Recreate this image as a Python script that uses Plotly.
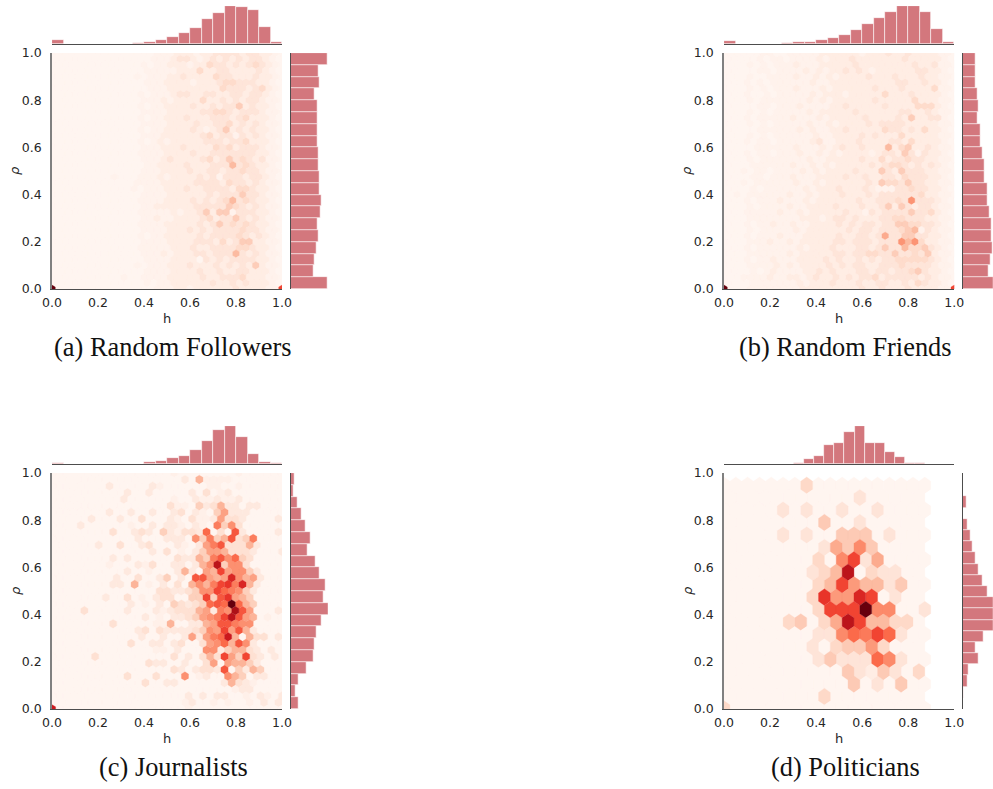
import plotly.graph_objects as go
from plotly.colors import sample_colorscale

# ---------- values ----------
# Top-to-bottom hex rows (k = 40..0). One base-36 character per cell.
CELLS_A = """
0000000000 0000001112 2212233332 332210
0000000000 0000011123 3212323232 33210
0000000000 0000101122 2122433232 343210
0000000000 0000111112 2242233222 23210
0000000000 0001011122 3222243322 232210
0000000000 0000111222 2122234433 32210
0000000000 0000011122 2222224333 234210
0000000000 0001011123 3223322332 33210
0000000000 0000111212 2224223232 332110
0000000000 0001011222 2322323352 32210
0000000000 0000111122 2223344323 332110
0000000000 0001011222 3222333234 22210
0000000000 0000111122 2232233423 232110
0000000000 0001011222 2321235232 32210
0000000000 0000111222 2223423313 232110
0000000000 0001012122 2223332334 22210
0000000000 0000111222 3222243423 332110
0000000000 0001111222 2322333333 32210
0000000000 0000111232 2223423534 323110
0000000000 0000112222 3222333634 32210
0000000000 0000111222 2322332334 332110
0000000001 0001112122 2232313332 33210
0000000000 0001111222 2233332433 232110
0000000000 0010111222 3223333244 32210
0000000000 0000111122 2222323335 332110
0000000000 0001111222 2323234634 32210
0000000000 0000112222 2233333543 232110
0000000000 0001111121 2235255133 32210
0000000000 0000112112 2223423353 232110
0000000000 0001111222 2232353434 32210
0000000000 0000111122 2323233334 332110
0000000000 0001011222 2232333343 23210
0000000000 0000111122 2233324235 522110
0000000000 0001111122 2322333344 32210
0000000000 0000111212 2233233363 232110
0000000000 0000111122 2203232333 32210
0000000000 0001011122 2322232323 252110
0000000000 0000111122 2232232233 22210
0000000000 0100111122 2223223334 222110
0000000000 0000101122 2222322323 22210
z000000000 0000001112 2122222232 22211c
"""
CELLS_B = """
0000001100 1111122222 2122232232 222110
0000010110 1111212223 2222222322 22210
0000101011 1211122222 3222222223 223110
0000011011 1121212232 3212222223 32210
0000100111 1211212122 2232223222 322110
0001010111 1112112222 2222223322 32210
0000101011 1211121222 2223222322 224110
0001001011 1112122212 2222422232 22210
0000101111 1112121222 2223222224 222110
0000011011 1211112232 2222322224 44210
0000101011 1112122222 3222222332 232110
0001011111 2111212222 2322223252 23310
0000101011 1112112122 2232333322 222110
0000011111 1212112232 2222433232 42210
0000101011 1111211222 2323222422 222110
0001011011 1112311222 3222233242 22210
0000011111 1211121232 2322262452 232110
0001011011 1211212122 2212332531 32210
0000101111 1112112222 2322423343 322110
0000111111 2112121222 2232344323 23210
0001011011 1121212222 3222532533 322110
0000110111 2111222232 2322332433 32210
0001011111 1211212222 2232544353 322110
0000101111 1121222322 2321113343 32210
0010111111 2112122232 2232333333 422110
0001011121 1121222222 3223334383 33210
0000101111 2112222322 2322352532 332110
0001111121 1212222232 2132333353 34210
0000111111 1122212332 3222334433 322110
0001011211 2112222323 2332335544 33210
0000101111 1212222223 2332333456 132110
0001011121 1122222322 3323733553 32210
0000111211 2122222332 3332333868 422110
0001011111 1212223222 3323533644 53210
0000111111 2122222332 3344335334 352110
0001011211 1222232322 3232334444 43210
0000111121 2122223232 3322333433 332110
0000101211 1122323222 3323323345 32210
0001111211 2212322323 2334233333 232110
0000111111 1212223222 3223322324 32210
z000111111 1122222222 2322322232 22211c
"""
CELLS_C = {
    36: {17: 1, 26: 1},
    35: {18: 2, 20: 5, 21: 1, 22: 1, 23: 1, 24: 1},
    34: {8: 2, 14: 2, 15: 1, 22: 1, 23: 1, 26: 1},
    33: {10: 2, 13: 2, 19: 2, 21: 3, 23: 1, 24: 2},
    32: {10: 2, 17: 1, 20: 2, 21: 1, 22: 1, 23: 2, 24: 1, 25: 1, 26: 2},
    31: {16: 3, 17: 1, 18: 1, 20: 4, 21: 2, 22: 3, 23: 5, 24: 2, 25: 2, 27: 2, 28: 2},
    30: {8: 2, 11: 2, 14: 2, 17: 2, 18: 3, 20: 2, 21: 1, 23: 4, 24: 6, 25: 2, 26: 2, 27: 2},
    29: {5: 2, 9: 2, 12: 3, 16: 2, 17: 1, 19: 3, 20: 1, 21: 1, 22: 2, 23: 6, 24: 3, 25: 3, 26: 2, 31: 2},
    28: {4: 2, 11: 1, 14: 2, 16: 2, 17: 2, 18: 1, 20: 2, 21: 1, 23: 8, 24: 4, 25: 7, 26: 3},
    27: {8: 3, 11: 2, 12: 3, 13: 2, 15: 4, 16: 2, 17: 1, 18: 3, 19: 3, 20: 2, 21: 9, 23: 3, 25: 11, 26: 2, 31: 2},
    26: {12: 2, 16: 2, 17: 2, 18: 2, 20: 7, 21: 4, 22: 8, 23: 4, 24: 5, 25: 11, 26: 3, 27: 4, 28: 8},
    25: {6: 2, 9: 3, 12: 2, 13: 3, 17: 2, 18: 1, 20: 2, 21: 6, 22: 8, 23: 10, 24: 3, 25: 3, 26: 3, 27: 5, 28: 2},
    24: {14: 2, 16: 3, 18: 1, 20: 2, 21: 4, 22: 6, 23: 6, 24: 5, 25: 3, 26: 3, 27: 3, 28: 2, 32: 2},
    23: {8: 2, 10: 2, 17: 3, 18: 2, 19: 2, 20: 5, 21: 4, 22: 8, 23: 10, 24: 7, 25: 9, 26: 4, 27: 3},
    22: {8: 1, 12: 2, 13: 1, 14: 3, 17: 2, 18: 2, 20: 2, 21: 5, 22: 7, 23: 16, 24: 4, 25: 7, 26: 7, 27: 3},
    21: {10: 2, 13: 1, 17: 2, 18: 5, 19: 2, 21: 6, 22: 5, 23: 12, 24: 6, 25: 7, 26: 7, 27: 4, 28: 2},
    20: {9: 2, 12: 3, 15: 2, 16: 4, 18: 2, 20: 10, 21: 11, 22: 6, 23: 5, 24: 6, 25: 14, 26: 7, 27: 5, 28: 6, 29: 2},
    19: {8: 2, 9: 2, 11: 5, 13: 1, 15: 2, 17: 3, 19: 5, 20: 7, 21: 5, 22: 8, 23: 12, 24: 13, 25: 8, 26: 14, 27: 5, 28: 2},
    18: {15: 3, 16: 3, 17: 2, 18: 2, 19: 3, 20: 4, 21: 7, 22: 7, 23: 12, 24: 9, 25: 8, 26: 7, 27: 4, 28: 2},
    17: {7: 2, 10: 3, 12: 1, 14: 2, 15: 3, 16: 3, 19: 4, 20: 4, 21: 12, 22: 4, 23: 10, 24: 13, 25: 6, 26: 5, 27: 4},
    16: {11: 2, 13: 1, 15: 2, 17: 4, 18: 3, 19: 2, 20: 3, 21: 4, 22: 9, 23: 10, 24: 9, 25: 20, 26: 9, 27: 5, 28: 4},
    15: {4: 3, 10: 2, 14: 2, 15: 1, 16: 2, 17: 3, 18: 3, 19: 3, 20: 5, 21: 6, 22: 2, 23: 8, 24: 7, 25: 17, 26: 10, 27: 6, 31: 2},
    14: {13: 2, 15: 1, 17: 2, 18: 2, 19: 3, 20: 4, 21: 6, 22: 7, 23: 8, 24: 12, 25: 16, 26: 10, 27: 6, 28: 5, 30: 1},
    13: {8: 3, 14: 1, 15: 1, 16: 5, 19: 2, 20: 2, 21: 5, 22: 6, 23: 10, 24: 10, 25: 8, 26: 7, 27: 7},
    12: {12: 2, 13: 3, 15: 3, 16: 2, 17: 2, 18: 2, 19: 2, 20: 3, 21: 4, 22: 7, 23: 6, 24: 12, 25: 6, 26: 10, 27: 5, 28: 2},
    11: {12: 2, 15: 2, 18: 2, 19: 6, 20: 2, 21: 6, 22: 8, 23: 9, 24: 15, 25: 5, 27: 5, 28: 3, 29: 3, 31: 2},
    10: {11: 3, 14: 2, 15: 2, 17: 2, 18: 3, 21: 3, 22: 6, 23: 7, 24: 9, 25: 5, 26: 10, 27: 7, 28: 2},
    9: {14: 1, 15: 1, 17: 2, 21: 7, 22: 7, 23: 2, 24: 4, 25: 5, 26: 5, 27: 3, 28: 2, 30: 2},
    8: {6: 3, 17: 3, 19: 2, 21: 3, 22: 5, 23: 3, 24: 12, 25: 6, 26: 4, 27: 12, 28: 3, 29: 2, 31: 2},
    7: {13: 3, 14: 2, 15: 2, 18: 2, 21: 3, 22: 6, 24: 6, 25: 5, 26: 5, 27: 4, 28: 2},
    6: {17: 3, 18: 2, 20: 2, 21: 3, 22: 3, 23: 2, 24: 11, 26: 4, 27: 2, 28: 5, 29: 4},
    5: {10: 3, 14: 3, 18: 7, 20: 1, 21: 2, 24: 7, 25: 5, 26: 4, 28: 2, 29: 2},
    4: {13: 3, 16: 2, 17: 2, 24: 2, 25: 5, 26: 3, 27: 2, 28: 1},
    3: {25: 1, 26: 2, 27: 2},
    2: {19: 2, 21: 2, 23: 2, 24: 2, 27: 1, 29: 2, 30: 1, 32: 2},
    1: {18: 1, 19: 2, 22: 1, 24: 1, 27: 1, 29: 2, 31: 2},
    0: {0: 15, 19: 1},
}
CELLS_D = {
    18: {7: 3},
    17: {11: 2},
    16: {5: 2, 7: 2, 10: 2, 13: 2},
    15: {8: 4, 11: 2},
    14: {5: 2, 7: 2, 10: 4, 11: 4, 12: 4, 14: 2},
    13: {8: 2, 9: 6, 10: 4, 11: 8, 12: 4},
    12: {8: 3, 10: 8, 11: 12, 12: 2, 13: 6},
    11: {7: 2, 8: 3, 9: 5, 10: 16, 12: 3, 13: 2, 14: 2},
    10: {8: 3, 9: 5, 10: 12, 11: 7, 12: 5, 13: 5, 14: 2, 15: 4},
    9: {7: 3, 8: 13, 9: 7, 10: 7, 11: 14, 12: 12, 14: 2},
    8: {8: 3, 9: 12, 10: 12, 11: 12, 12: 20, 13: 8, 14: 8, 17: 2},
    7: {5: 3, 6: 4, 8: 3, 9: 6, 10: 16, 11: 12, 12: 5, 13: 5, 14: 3, 15: 3},
    6: {8: 2, 9: 2, 10: 8, 11: 10, 12: 9, 13: 12, 14: 10, 15: 2},
    5: {7: 2, 9: 3, 10: 4, 11: 4, 12: 7, 13: 3},
    4: {8: 2, 9: 4, 10: 2, 11: 2, 12: 2, 13: 10, 14: 8, 15: 2},
    3: {10: 4, 11: 2, 12: 1, 13: 4, 14: 2, 16: 3},
    2: {11: 4, 13: 2, 15: 4},
    1: {8: 3},
    0: {0: 3},
}

H_A = [12, 0, 0, 0, 0, 1, 2, 5, 8, 12, 23, 34, 48, 74, 94, 114, 111, 103, 52, 7]
H_B = [10, 0, 0, 0, 1, 4, 7, 8, 14, 20, 27, 43, 61, 79, 97, 114, 114, 97, 47, 7]
H_C = [3, 0, 0, 0, 0, 0, 1, 1, 6, 9, 18, 24, 43, 71, 104, 115, 83, 31, 6, 4]
H_D = [0, 0, 0, 0, 0, 0, 2, 3, 16, 25, 58, 63, 97, 115, 63, 63, 36, 23, 3, 3]

RHO_A = [110, 68, 72, 77, 85, 80, 89, 93, 87, 87, 83, 84, 81, 80, 81, 81, 72, 88, 85, 111]
RHO_B = [90, 77, 82, 89, 87, 87, 79, 74, 73, 65, 65, 58, 53, 52, 44, 48, 45, 38, 37, 39]
RHO_C = [24, 15, 25, 49, 68, 71, 79, 94, 112, 98, 104, 86, 74, 51, 61, 44, 32, 21, 9, 11]
RHO_D = [0, 4, 14, 18, 49, 40, 63, 91, 91, 91, 76, 60, 49, 40, 31, 24, 14, 0, 11, 1]

CAPTIONS = ["(a) Random Followers", "(b) Random Friends", "(c) Journalists", "(d) Politicians"]
TICKS = [0.0, 0.2, 0.4, 0.6, 0.8, 1.0]
TICK_TEXT = ["0.0", "0.2", "0.4", "0.6", "0.8", "1.0"]

# shade for the lowest cell levels in the pale panels
PALE_AB = {1: 0.015, 2: 0.05, 3: 0.095, 4: 0.14, 5: 0.19, 6: 0.25, 7: 0.30, 8: 0.37}
PALE_C = {1: 0.03, 2: 0.07, 3: 0.12, 4: 0.18, 5: 0.27, 6: 0.33, 7: 0.38, 8: 0.44, 9: 0.50, 10: 0.55}
PALE_D = {}

# ---------- layout constants ----------
W, H = 993, 789
BAR = "#d3777d"
INK = "#262626"


def dense(text):
    rows = [r.replace(" ", "") for r in text.strip().splitlines()]
    n = len(rows) - 1
    return {n - idx: {i: int(c, 36) for i, c in enumerate(r) if c != "0"} for idx, r in enumerate(rows)}


PANELS = [
    dict(cells=dense(CELLS_A), top=H_A, right=RHO_A, nx=35, ny=20, xmax=1.0, ymax=1.0, pale=PALE_AB,
         x0=52, x1=282, y0=53, y1=289, base=44.3, ttop=6, rx0=290.5, rx1=328, rmax=112, tmax=114),
    dict(cells=dense(CELLS_B), top=H_B, right=RHO_B, nx=35, ny=20, xmax=1.0, ymax=1.0, pale=PALE_AB,
         x0=724, x1=954.3, y0=53, y1=289, base=44.3, ttop=6, rx0=962.5, rx1=993, rmax=90, tmax=114),
    dict(cells=CELLS_C, top=H_C, right=RHO_C, nx=32, ny=18, xmax=1.0, ymax=1.0, pale=PALE_C,
         x0=52, x1=282, y0=473, y1=709, base=464.3, ttop=426, rx0=290.5, rx1=328, rmax=112, tmax=115),
    dict(cells=CELLS_D, top=H_D, right=RHO_D, nx=17, ny=9, xmax=0.872, ymax=0.948, pale=PALE_D,
         x0=724, x1=954.3, y0=473, y1=709, base=464.3, ttop=426, rx0=962.5, rx1=993, rmax=91, tmax=115),
]
CAP_POS = [(172.7, 347), (845, 347), (173, 767), (845, 767)]


def px(v):
    return v / W


def py(v):
    return 1 - v / H


def color(level, pale):
    frac = pale.get(level, min(level, 20) / 20)
    return sample_colorscale("Reds", [frac])[0]


fig = go.Figure()
layout = dict(
    template="none",
    width=W, height=H, margin=dict(l=0, r=0, t=0, b=0, pad=0), autosize=False,
    paper_bgcolor="white", plot_bgcolor="white", showlegend=False, bargap=0,
    font=dict(family="DejaVu Sans", color=INK, size=12), annotations=[],
)


def blank(**kw):
    base_axis = dict(showgrid=False, zeroline=False, showticklabels=False, ticks="", showline=False,
                     automargin=False)
    base_axis.update(kw)
    return base_axis


for n, p in enumerate(PANELS):
    a = 3 * n
    xm, ym, xt, yt, xr, yr = (f"x{a+1}", f"y{a+1}", f"x{a+2}", f"y{a+2}", f"x{a+3}", f"y{a+3}")
    sx, sy = p["xmax"] / p["nx"], p["ymax"] / p["ny"]
    paths = {}
    for k in range(2 * p["ny"] + 1):
        odd = k % 2
        count = p["nx"] + (0 if odd else 1)
        row = p["cells"].get(k, {})
        for i in range(count):
            cx = (i + 0.5 * odd) * sx
            cy = k * sy / 2
            lev = row.get(i, 0)
            xs, ys = paths.setdefault(lev, ([], []))
            xs += [cx + sx / 2, cx + sx / 2, cx, cx - sx / 2, cx - sx / 2, cx, None]
            ys += [cy - sy / 6, cy + sy / 6, cy + sy / 3, cy + sy / 6, cy - sy / 6, cy - sy / 3, None]
    for lev in sorted(paths):
        xs, ys = paths[lev]
        c = color(lev, p["pale"])
        fig.add_trace(go.Scatter(
            x=xs, y=ys, xaxis=xm, yaxis=ym, mode="lines", fill="toself",
            fillcolor=c, line=dict(width=0.3, color=c), hoverinfo="skip"))

    # marginals: 20 equal bins across the data range
    bx, by = p["xmax"] / 20, p["ymax"] / 20
    centers_x = [(i + 0.5) * bx for i in range(20)]
    centers_y = [(i + 0.5) * by for i in range(20)]
    fig.add_trace(go.Bar(x=centers_x, y=p["top"], width=bx, xaxis=xt, yaxis=yt,
                         marker=dict(color=BAR, line=dict(color="rgba(255,255,255,0.8)", width=0.7)),
                         hoverinfo="skip"))
    fig.add_trace(go.Bar(y=centers_y, x=p["right"], width=by, orientation="h", xaxis=xr, yaxis=yr,
                         marker=dict(color=BAR, line=dict(color="rgba(255,255,255,0.8)", width=0.7)),
                         hoverinfo="skip"))

    sfx = lambda s: s[1:] if s[1:] != "1" else ""
    layout["xaxis" + sfx(xm)] = blank(
        domain=[px(p["x0"]), px(p["x1"])], range=[0, 1], anchor=ym, showticklabels=True,
        tickvals=TICKS, ticktext=TICK_TEXT, tickfont=dict(size=12.5, color=INK), ticklabelstandoff=2,
        showline=True, linecolor="#4d4d4d", linewidth=1.3)
    layout["yaxis" + sfx(ym)] = blank(
        domain=[py(p["y1"]), py(p["y0"])], range=[0, 1], anchor=xm, showticklabels=True,
        tickvals=TICKS, ticktext=TICK_TEXT, tickfont=dict(size=12.5, color=INK), ticklabelstandoff=6,
        showline=True, linecolor="#808080", linewidth=1.6)
    layout["xaxis" + sfx(xt)] = blank(
        domain=[px(p["x0"]), px(p["x1"])], range=[0, 1], anchor=yt,
        showline=True, linecolor="#4d4d4d", linewidth=1.2)
    layout["yaxis" + sfx(yt)] = blank(
        domain=[py(p["base"]), py(p["ttop"])], range=[0, p["tmax"]], anchor=xt)
    layout["xaxis" + sfx(xr)] = blank(
        domain=[px(p["rx0"]), px(p["rx1"])], range=[0, p["rmax"]], anchor=yr)
    layout["yaxis" + sfx(yr)] = blank(
        domain=[py(p["y1"]), py(p["y0"])], range=[0, 1], anchor=xr,
        showline=True, linecolor="#4d4d4d", linewidth=1.2)

    layout["annotations"].append(dict(
        text="h", xref="paper", yref="paper", x=px((p["x0"] + p["x1"]) / 2), y=py(p["y1"] + 29),
        xanchor="center", yanchor="middle", showarrow=False, font=dict(size=13, color=INK)))
    layout["annotations"].append(dict(
        text="ρ", xref="paper", yref="paper", x=px(p["x0"] - 37), y=py((p["y0"] + p["y1"]) / 2),
        xanchor="center", yanchor="middle", textangle=-90, showarrow=False,
        font=dict(size=13, color=INK, style="italic")))
    cx, cy = CAP_POS[n]
    layout["annotations"].append(dict(
        text=CAPTIONS[n], xref="paper", yref="paper", x=px(cx), y=py(cy),
        xanchor="center", yanchor="middle", showarrow=False,
        font=dict(family="Liberation Serif", size=26.4, color="#111111")))

fig.update_layout(**layout)
fig.write_html("out.html", config=dict(displayModeBar=False), post_script="document.body.style.margin='0';")
